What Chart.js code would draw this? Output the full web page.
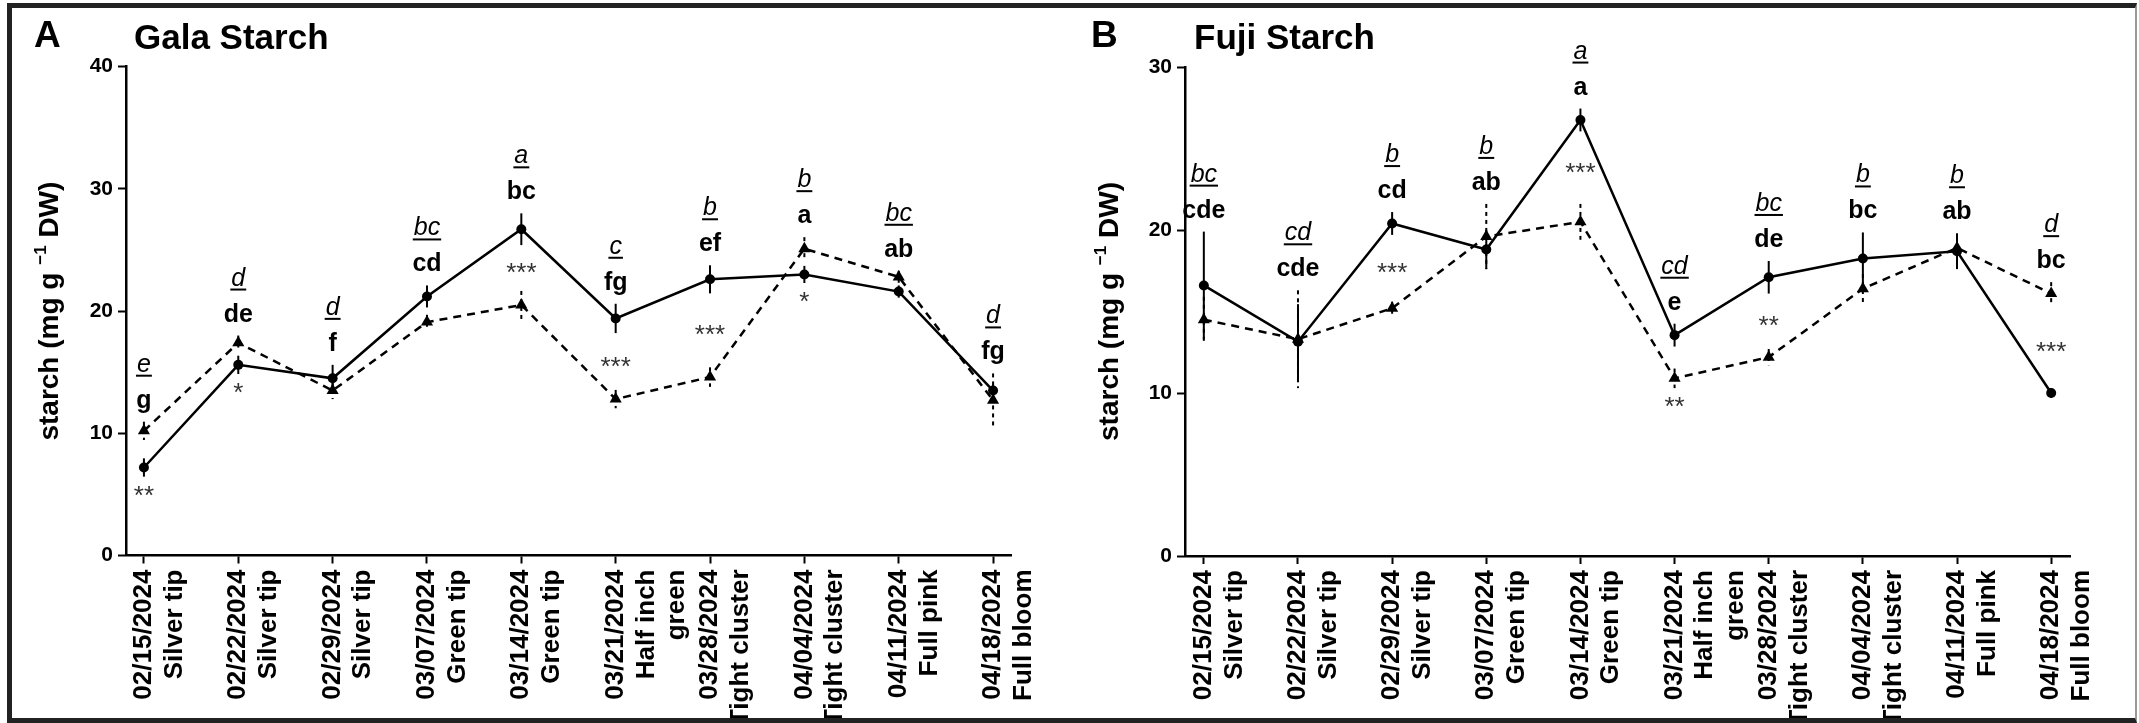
<!DOCTYPE html>
<html>
<head>
<meta charset="utf-8">
<script src="https://cdn.jsdelivr.net/npm/chart.js@4.4.1/dist/chart.umd.min.js"></script>
<style>
  html, body { margin: 0; padding: 0; background: #fff; }
  body { width: 2139px; height: 723px; position: relative; overflow: hidden; }
  canvas { position: absolute; top: 0; }
  #gala { left: 0; }
  #fuji { left: 1075px; }
  #frame {
    position: absolute; left: 7px; top: 3px; width: 2130px; height: 720px;
    box-sizing: border-box; border: 5px solid #222; border-right: 2px solid #999;
    pointer-events: none;
  }
</style>
</head>
<body>
<canvas id="gala" width="1075" height="723"></canvas>
<canvas id="fuji" width="1064" height="723"></canvas>
<div id="frame"></div>
<script>
// sampling dates and bud stages
var dates = ['02/15/2024', '02/22/2024', '02/29/2024', '03/07/2024', '03/14/2024',
             '03/21/2024', '03/28/2024', '04/04/2024', '04/11/2024', '04/18/2024'];
var stages = [['Silver tip'], ['Silver tip'], ['Silver tip'], ['Green tip'], ['Green tip'],
              ['Half inch', 'green'], ['Tight cluster'], ['Tight cluster'], ['Full pink'], ['Full bloom']];
var tickLabels = dates.map(function(d, i) { return [d].concat(stages[i]); });

// Gala starch (mg/g DW): solid = circles, dashed = triangles
var galaSolid    = [7.2, 15.6, 14.5, 21.2, 26.7, 19.4, 22.6, 23.0, 21.6, 13.5];
var galaSolidSe  = [0.75, 0.75, 1.1, 0.9, 1.3, 1.2, 1.15, 0.7, 0.5, 0.5];
var galaDashed   = [10.2, 17.4, 13.5, 19.1, 20.5, 12.8, 14.6, 25.1, 22.8, 12.7];
var galaDashedSe = [0.75, 0.6, 0.7, 0.6, 1.15, 0.75, 0.8, 0.95, 0.5, 2.2];
var galaBold     = ['g', 'de', 'f', 'cd', 'bc', 'fg', 'ef', 'a', 'ab', 'fg'];
var galaItalic   = ['e', 'd', 'd', 'bc', 'a', 'c', 'b', 'b', 'bc', 'd'];
var galaStars    = ['**', '*', '', '', '***', '***', '***', '*', '', ''];

// Fuji starch (mg/g DW)
var fujiSolid    = [16.6, 13.15, 20.4, 18.8, 26.75, 13.55, 17.1, 18.25, 18.7, 10.0];
var fujiSolidSe  = [3.3, 2.3, 0.7, 1.2, 0.7, 0.7, 1.0, 1.6, 1.1, 0.3];
var fujiDashed   = [14.5, 13.3, 15.2, 19.6, 20.5, 10.9, 12.2, 16.4, 18.9, 16.1];
var fujiDashedSe = [1.4, 3.0, 0.4, 2.0, 1.1, 0.6, 0.5, 0.9, 0.6, 0.7];
var fujiBold     = ['cde', 'cde', 'cd', 'ab', 'a', 'e', 'de', 'bc', 'ab', 'bc'];
var fujiItalic   = ['bc', 'cd', 'b', 'b', 'a', 'cd', 'bc', 'b', 'b', 'd'];
var fujiStars    = ['', '', '***', '', '***', '**', '**', '', '', '***'];

var FONT = '"Liberation Sans", Arial, sans-serif';
Chart.defaults.font.family = FONT;
Chart.defaults.color = '#000';

function toPoints(values) {
  return values.map(function(v, i) { return {x: i, y: v}; });
}

// vertical SE bars, dashed for the dashed series
var errorBars = {
  id: 'errorBars',
  beforeDatasetsDraw: function(chart) {
    var ctx = chart.ctx, xs = chart.scales.x, ys = chart.scales.y;
    chart.data.datasets.forEach(function(ds) {
      ctx.save();
      ctx.strokeStyle = '#000';
      ctx.lineWidth = 2;
      ctx.setLineDash(ds.borderDash ? [4, 4] : []);
      ds.data.forEach(function(p, i) {
        var px = xs.getPixelForValue(p.x);
        ctx.beginPath();
        ctx.moveTo(px, ys.getPixelForValue(p.y + ds.errors[i]));
        ctx.lineTo(px, ys.getPixelForValue(p.y - ds.errors[i]));
        ctx.stroke();
      });
      ctx.restore();
    });
  }
};

// panel letter, title, y title, group letters and asterisks
function makeLetters(o) {
  return {
    id: 'letters',
    afterDraw: function(chart) {
      var ctx = chart.ctx, xs = chart.scales.x, ys = chart.scales.y;
      var sets = chart.data.datasets, area = chart.chartArea;
      ctx.save();
      ctx.fillStyle = '#000';
      ctx.textBaseline = 'alphabetic';
      ctx.textAlign = 'left';
      ctx.font = 'bold 37px ' + FONT;
      ctx.fillText(o.panel, o.panelX, 47);
      ctx.font = 'bold 35px ' + FONT;
      ctx.fillText(o.title, o.titleX, 49);

      // y axis title with superscript
      ctx.save();
      ctx.translate(o.yTitleX, (area.top + area.bottom) / 2);
      ctx.rotate(-Math.PI / 2);
      var main = 'starch (mg g ', sup = '\u22121', tail = ' DW)';
      ctx.font = 'bold 28px ' + FONT;
      var w1 = ctx.measureText(main).width, w3 = ctx.measureText(tail).width;
      ctx.font = 'bold 17px ' + FONT;
      var w2 = ctx.measureText(sup).width;
      var sx = -(w1 + w2 + w3) / 2;
      ctx.font = 'bold 28px ' + FONT;
      ctx.fillText(main, sx, 0);
      ctx.fillText(tail, sx + w1 + w2, 0);
      ctx.font = 'bold 17px ' + FONT;
      ctx.fillText(sup, sx + w1, -12);
      ctx.restore();

      ctx.textAlign = 'center';
      o.bold.forEach(function(txt, i) {
        var px = xs.getPixelForValue(i);
        var ends = sets.map(function(ds) {
          var v = ds.data[i].y, e = ds.errors[i];
          return {
            mid: ys.getPixelForValue(v),
            top: ys.getPixelForValue(v + e),
            bottom: ys.getPixelForValue(v - e)
          };
        });
        var top = Math.min(ends[0].top, ends[1].top);
        var base = top - 14;
        ctx.font = 'bold 25px ' + FONT;
        ctx.fillText(txt, px, base);

        var ib = base - 36;
        ctx.font = 'italic 25px ' + FONT;
        ctx.fillText(o.italic[i], px, ib);
        var w = ctx.measureText(o.italic[i]).width;
        ctx.fillRect(px - w / 2 - 1, ib + 3, w + 2, 2);

        if (o.stars[i]) {
          var hi = ends[0].mid < ends[1].mid ? ends[0] : ends[1];
          var lo = hi === ends[0] ? ends[1] : ends[0];
          var gap = lo.top - hi.bottom;
          var cy = gap > 40 ? (hi.bottom + lo.top) / 2
                            : Math.max(ends[0].bottom, ends[1].bottom) + 14;
          ctx.font = '26px ' + FONT;
          ctx.fillStyle = '#333';
          var m = ctx.measureText(o.stars[i]);
          ctx.fillText(o.stars[i], px, cy + (m.actualBoundingBoxAscent - m.actualBoundingBoxDescent) / 2);
          ctx.fillStyle = '#000';
        }
      });
      ctx.restore();
    }
  };
}

function makeChart(id, o) {
  return new Chart(document.getElementById(id), {
    type: 'line',
    data: {
      datasets: [{
        data: toPoints(o.solid),
        errors: o.solidSe,
        borderColor: '#000',
        backgroundColor: '#000',
        borderWidth: 2.5,
        pointStyle: 'circle',
        pointRadius: 5,
        pointBorderWidth: 0,
        pointBackgroundColor: '#000'
      }, {
        data: toPoints(o.dashed),
        errors: o.dashedSe,
        borderColor: '#000',
        backgroundColor: '#000',
        borderWidth: 2.5,
        borderDash: [8, 6],
        pointStyle: 'triangle',
        pointRadius: 7,
        pointBorderWidth: 0,
        pointBackgroundColor: '#000'
      }]
    },
    options: {
      responsive: false,
      animation: false,
      layout: {padding: {left: 0, top: o.top, right: o.right, bottom: 0}},
      plugins: {legend: {display: false}, tooltip: {enabled: false}},
      scales: {
        x: {
          type: 'linear',
          min: -o.edge,
          max: dates.length - 1 + o.edge,
          afterBuildTicks: function(s) {
            s.ticks = dates.map(function(_, i) { return {value: i}; });
          },
          afterFit: function(s) { s.height = 723 - o.bottom; },
          grid: {drawOnChartArea: false, tickLength: 8, tickWidth: 2, color: '#000'},
          border: {display: true, color: '#000', width: 2.5},
          ticks: {
            autoSkip: false, minRotation: 90, maxRotation: 90, padding: 6, color: '#000',
            font: {size: 26, weight: 'bold', lineHeight: 1.18},
            callback: function(v) { return tickLabels[v]; }
          }
        },
        y: {
          min: 0,
          max: o.max,
          afterFit: function(s) { s.width = o.axisX; },
          grid: {drawOnChartArea: false, tickLength: 8, tickWidth: 2, color: '#000'},
          border: {display: true, color: '#000', width: 2.5},
          ticks: {stepSize: 10, padding: 5, color: '#000', font: {size: 21, weight: 'bold'}}
        }
      }
    },
    plugins: [errorBars, makeLetters(o)]
  });
}

makeChart('gala', {
  solid: galaSolid, solidSe: galaSolidSe, dashed: galaDashed, dashedSe: galaDashedSe,
  bold: galaBold, italic: galaItalic, stars: galaStars,
  panel: 'A', panelX: 34, title: 'Gala Starch', titleX: 134, yTitleX: 58,
  max: 40, top: 66.7, bottom: 555.5, right: 64, axisX: 126, edge: 0.19
});

makeChart('fuji', {
  solid: fujiSolid, solidSe: fujiSolidSe, dashed: fujiDashed, dashedSe: fujiDashedSe,
  bold: fujiBold, italic: fujiItalic, stars: fujiStars,
  panel: 'B', panelX: 16, title: 'Fuji Starch', titleX: 119, yTitleX: 43,
  max: 30, top: 67, bottom: 556, right: 69, axisX: 110, edge: 0.2
});
</script>
</body>
</html>
